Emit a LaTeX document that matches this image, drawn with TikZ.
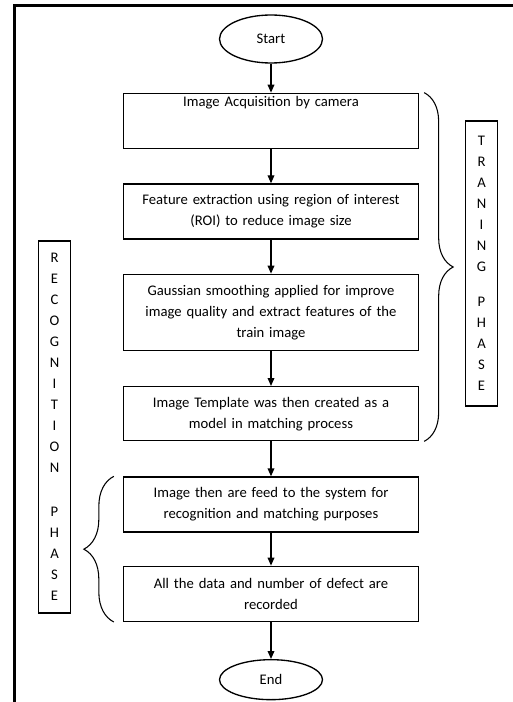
\documentclass[tikz,border=0pt]{standalone}
\usepackage{fontspec}
\setmainfont{Carlito}
\usetikzlibrary{positioning}
\usetikzlibrary{shapes.geometric}
\usetikzlibrary{arrows.meta}
\usetikzlibrary{decorations.pathreplacing}

\begin{document}
\begin{tikzpicture}[x=0.75pt, y=-0.75pt, node distance=25.5pt,
    font=\fontsize{11}{15.75}\selectfont,
    box/.style={draw, line width=1pt, text width=210pt, align=center, minimum height=41.25pt, inner xsep=5.625pt},
    term/.style={draw, ellipse, line width=1pt, minimum width=77.25pt, minimum height=36pt, inner sep=0pt},
    side/.style={draw, line width=0.8pt, minimum width=23.4pt, align=center, inner sep=0pt},
    arr/.style={-{Triangle[length=6pt,width=5pt]}, line width=1pt},
    brc/.style={decorate, line width=0.8pt}]

    \useasboundingbox (0,0) rectangle (513,702);
    \draw[line width=2.25pt] (513,6) -- (14,6) -- (14,702);

    \node[term] (s) at (271,39) {Start};
    \node[box, below=21.75pt of s, text height=9pt, text depth=31pt, inner ysep=0.75pt] (b1) {Image Acquisition by camera};
    \node[box, below=of b1] (b2) {Feature extraction using region of interest\\(ROI) to reduce image size};
    \node[box, below=of b2, minimum height=57pt] (b3) {Gaussian smoothing applied for improve\\image quality and extract features of the\\train image};
    \node[box, below=26.25pt of b3, minimum height=40.5pt] (b4) {Image Template was then created as a\\model in matching process};
    \node[box, below=26.25pt of b4] (b5) {Image then are feed to the system for\\recognition and matching purposes};
    \node[box, below=24.75pt of b5] (b6) {All the data and number of defect are\\recorded};
    \node[term, below=27.75pt of b6, minimum height=30pt] (e) {End};

    \foreach \u/\v in {s/b1, b1/b2, b2/b3, b3/b4, b4/b5, b5/b6, b6/e}
        \draw[arr] (\u) -- (\v);

    % phase labels
    \node[side, minimum height=213.75pt] (tr) at (481.5,263.5) {T\\R\\A\\N\\I\\N\\G\\[10.5pt]P\\H\\A\\S\\E};
    \node[side, minimum height=279pt] (rc) at (54.5,427) {R\\E\\C\\O\\G\\N\\I\\T\\I\\O\\N\\[17.25pt]P\\H\\A\\S\\E};

    \draw[brc, decoration={brace, amplitude=21.75pt}] ([xshift=3.75pt]b1.north east) -- ([xshift=3.75pt]b4.south east);
    \draw[brc, decoration={brace, amplitude=22.5pt}] ([xshift=-6.75pt]b6.south west) -- ([xshift=-6.75pt]b5.north west);
\end{tikzpicture}
\end{document}
